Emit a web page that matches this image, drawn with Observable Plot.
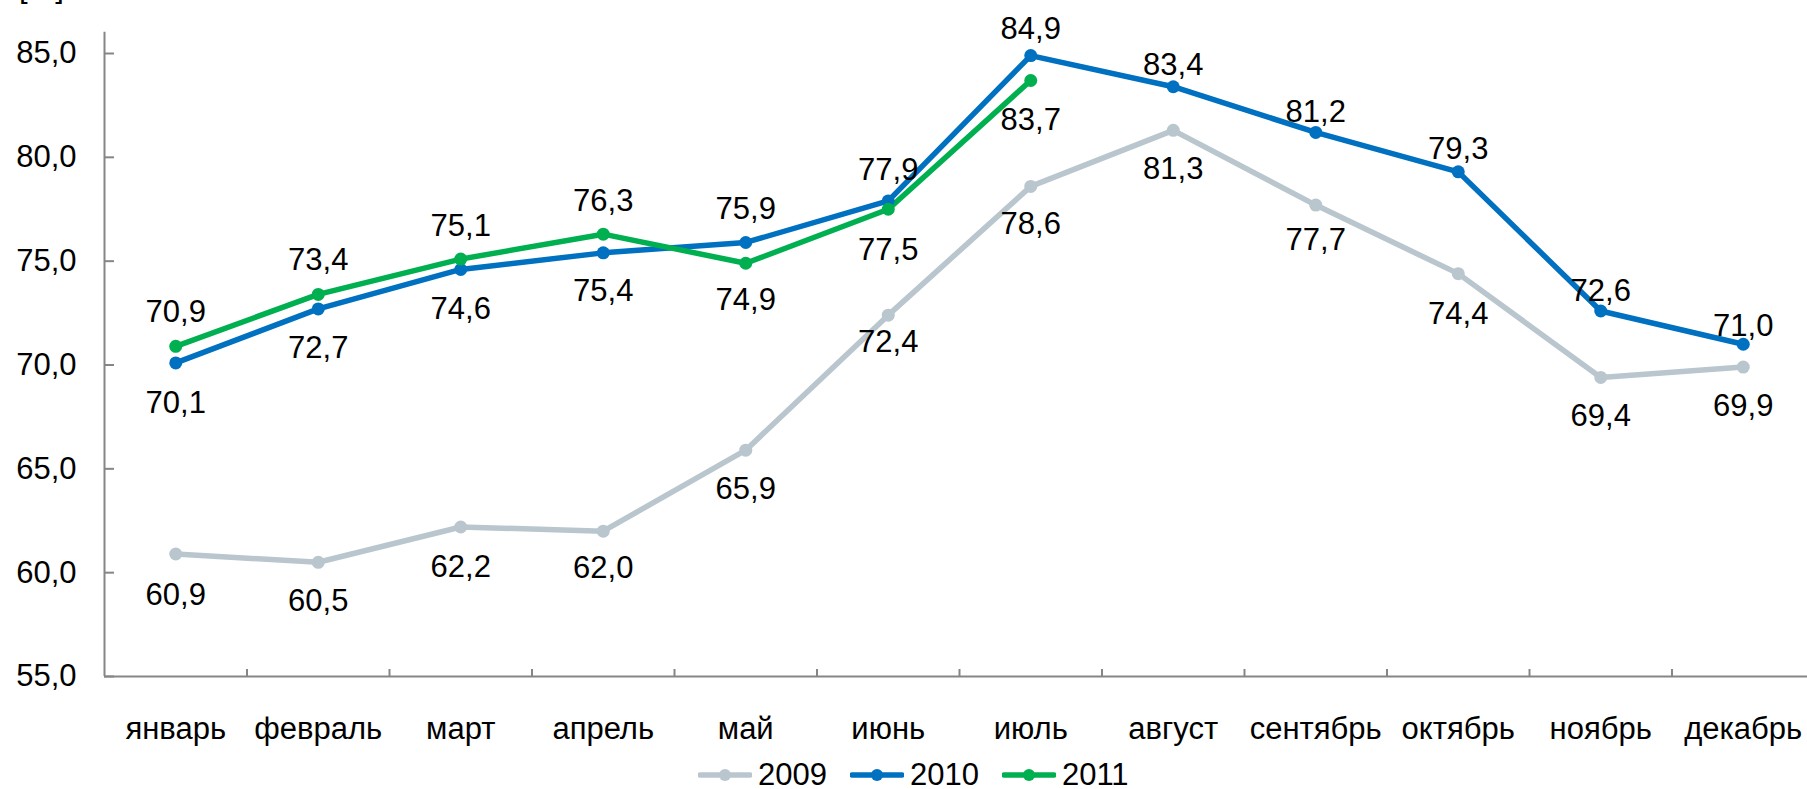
<!DOCTYPE html>
<html>
<head>
<meta charset="utf-8">
<script src="https://cdn.jsdelivr.net/npm/d3@7"></script>
<script src="https://cdn.jsdelivr.net/npm/@observablehq/plot@0.6"></script>
<style>
  html, body { margin: 0; padding: 0; background: #fff; }
  body { position: relative; width: 1807px; height: 789px; overflow: hidden; font-family: "Liberation Sans", Arial, sans-serif; }
  #unit { position: absolute; left: 19px; top: -29px; font-size: 31px; line-height: 31px; color: #000; }
  #legend { position: absolute; top: 757px; left: 698px; display: flex; align-items: center; height: 36px; font-size: 31px; line-height: 36px; color: #000; }
  #legend .item { display: flex; align-items: center; margin-right: 23px; }
  #legend svg { margin-right: 6px; }
</style>
</head>
<body>
<div id="chart"></div>
<div id="unit">[%]</div>
<div id="legend"></div>
<script>
// ---- data ----
const months = ["январь","февраль","март","апрель","май","июнь","июль","август","сентябрь","октябрь","ноябрь","декабрь"];
const years = ["2009","2010","2011"];
const values2009 = [60.9,60.5,62.2,62.0,65.9,72.4,78.6,81.3,77.7,74.4,69.4,69.9];
const values2010 = [70.1,72.7,74.6,75.4,75.9,77.9,84.9,83.4,81.2,79.3,72.6,71.0];
const values2011 = [70.9,73.4,75.1,76.3,74.9,77.5,83.7];
const yTicks = [55,60,65,70,75,80,85];

// ---- styling / layout ----
const colors = ["#B9C6CE","#0070C0","#00B050"];
const labelDy2009 = [41,39,40,37,39,27,38,39,35,40,39,39];
const labelDy2010 = [40,39,40,38,-33,-31,-26,-22,-20,-23,-20,-18];
const labelDy2011 = [-34,-34,-33,-33,37,41,40];
const axisColor = "#868686";
const fmt = v => v.toFixed(1).replace(".", ",");

const series = [
  {year: years[0], values: values2009, dys: labelDy2009},
  {year: years[1], values: values2010, dys: labelDy2010},
  {year: years[2], values: values2011, dys: labelDy2011}
];
const rows = series.flatMap(s => s.values.map((v, i) => ({year: s.year, month: months[i], idx: i, value: v, dy: s.dys[i]})));
const xOf = d => d.idx + 0.5;

const labelGroups = d3.groups(rows, d => d.dy);
const labelMarks = labelGroups.map(([dy, g]) =>
  Plot.text(g, {x: xOf, y: "value", text: d => fmt(d.value), dy: dy, fill: "#000", fontSize: 31, lineAnchor: "middle"})
);

const chart = Plot.plot({
  width: 1807,
  height: 752,
  marginLeft: 104,
  marginRight: 0,
  marginTop: 32,
  marginBottom: 76,
  style: {fontFamily: "'Liberation Sans', Arial, sans-serif", fontSize: "31px", color: "#000", background: "#fff", overflow: "hidden"},
  x: {type: "linear", domain: [0, 12], range: [104, 1814], label: null},
  y: {domain: [55, 85], range: [676, 53], label: null},
  color: {domain: years, range: colors},
  marks: [
    Plot.axisY(yTicks, {tickSize: -10, tickPadding: 38, tickFormat: fmt, stroke: axisColor, strokeWidth: 2, fill: "#000", fontSize: 31, label: null}),
    Plot.axisX(d3.range(1, 12), {tickSize: -7, tickFormat: () => "", stroke: axisColor, strokeWidth: 2, label: null}),
    Plot.axisX(months.map((m, i) => i + 0.5), {tickSize: 0, tickPadding: 40, tickFormat: d => months[Math.floor(d)], fill: "#000", fontSize: 31, stroke: "none", label: null}),
    Plot.ruleX([0], {y1: 55, y2: 86.02, stroke: axisColor, strokeWidth: 2}),
    Plot.ruleY([55], {x1: 0, x2: 12, stroke: axisColor, strokeWidth: 2}),
    Plot.line(rows, {x: xOf, y: "value", z: "year", stroke: "year", strokeWidth: 5.5, strokeLinejoin: "round"}),
    Plot.dot(rows, {x: xOf, y: "value", fill: "year", r: 6.5}),
    ...labelMarks
  ]
});
document.getElementById("chart").appendChild(chart);

// legend
const legend = document.getElementById("legend");
years.forEach((y, i) => {
  const item = document.createElement("div");
  item.className = "item";
  item.innerHTML = `<svg width="54" height="16" viewBox="0 0 54 16"><line x1="2" y1="8" x2="52" y2="8" stroke="${colors[i]}" stroke-width="5.5" stroke-linecap="round"/><circle cx="27" cy="8" r="6" fill="${colors[i]}"/></svg><span>${y}</span>`;
  legend.appendChild(item);
});
</script>
</body>
</html>
